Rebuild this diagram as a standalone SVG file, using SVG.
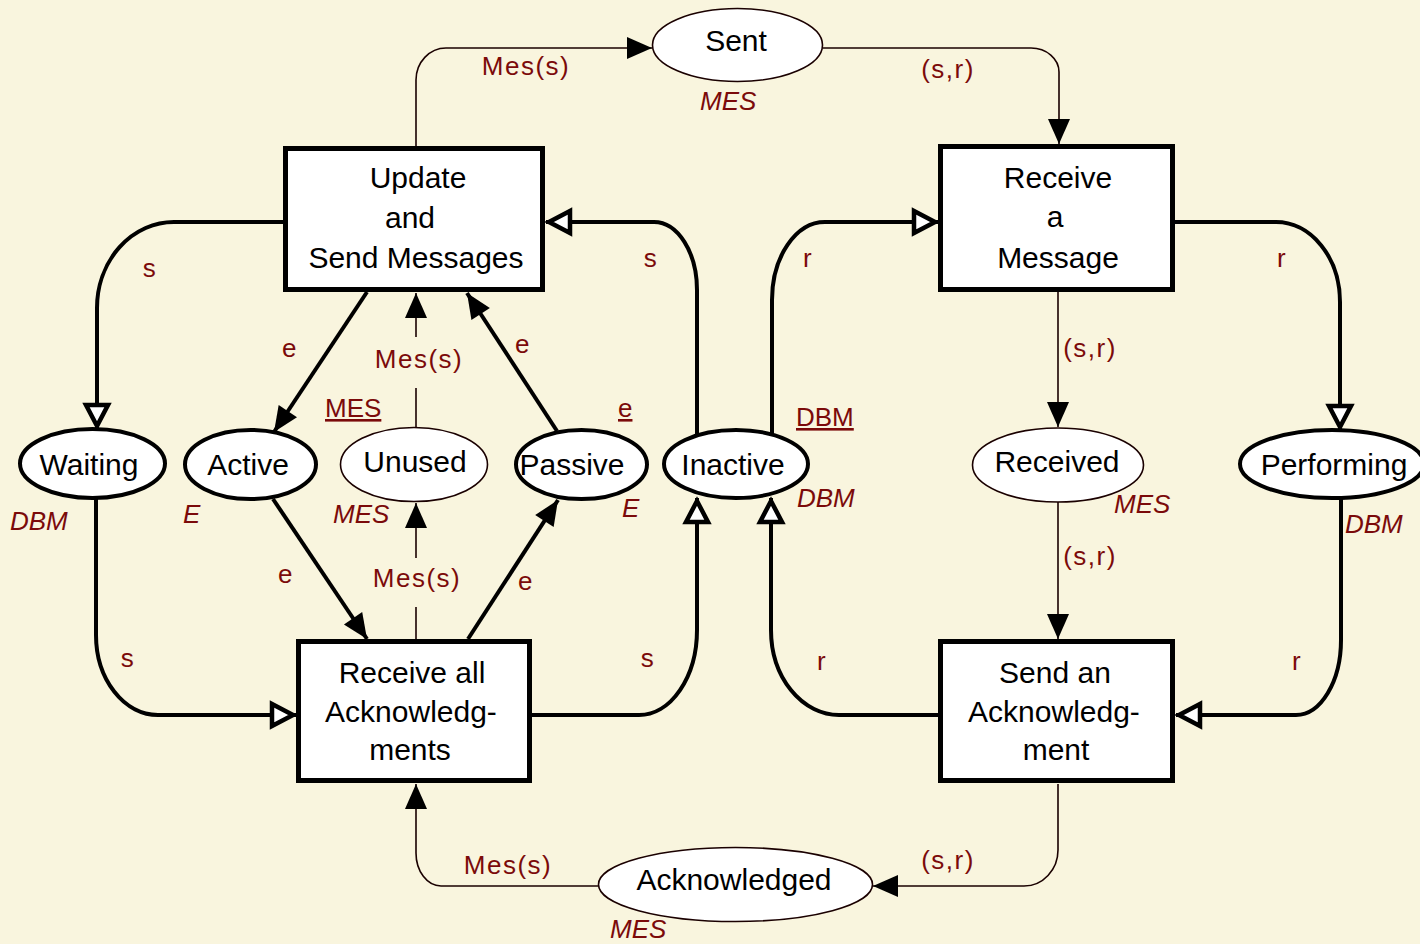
<svg xmlns="http://www.w3.org/2000/svg" width="1420" height="944" viewBox="0 0 1420 944">
<defs>
<style>
.bg{fill:#F9F5DE}
.tr{fill:#fff;stroke:#000;stroke-width:5}
.pk{fill:#fff;stroke:#000;stroke-width:4}
.pn{fill:#fff;stroke:#1a0000;stroke-width:1.6}
.nt{font-family:"Liberation Sans",Arial,sans-serif;font-size:30px;fill:#000;text-anchor:middle}
.al{font-family:"Liberation Sans",Arial,sans-serif;font-size:26px;fill:#7b0a0a;text-anchor:middle;letter-spacing:1.5px}
.cs{font-family:"Liberation Sans",Arial,sans-serif;font-size:26px;font-style:italic;fill:#7b0a0a;text-anchor:start}
.im{font-family:"Liberation Sans",Arial,sans-serif;font-size:26px;fill:#7b0a0a;text-anchor:start;text-decoration:underline}
.thin{fill:none;stroke:#1a0000;stroke-width:1.6}
.thick{fill:none;stroke:#000;stroke-width:4}
.fa{marker-end:url(#filled)}
.ha{marker-end:url(#hollow)}
</style>
<marker id="filled" markerUnits="userSpaceOnUse" viewBox="-30 -15 34 30" refX="0" refY="0" markerWidth="34" markerHeight="30" orient="auto" overflow="visible">
<path d="M0,0 L-25,-11 L-25,11 Z" fill="#000"/>
</marker>
<marker id="hollow" markerUnits="userSpaceOnUse" viewBox="-34 -18 38 36" refX="0" refY="0" markerWidth="38" markerHeight="36" orient="auto" overflow="visible">
<path d="M-3,0 L-24,-11 L-24,11 Z" fill="#fff" stroke="#000" stroke-width="4.5"/>
</marker>
</defs>
<rect class="bg" x="0" y="0" width="1420" height="944"/>

<g id="connectors">
<path id="a-update-sent" class="thin fa" d="M416,146 V80 A30,32 0 0 1 446,48 H652"/>
<path id="a-sent-receive" class="thin fa" d="M823,48 H1031 A28,24 0 0 1 1059,72 V144"/>
<path id="a-update-waiting" class="thick ha" d="M284,222 H174 A77,86 0 0 0 97,308 V429"/>
<path id="a-inactive-update" class="thick ha" d="M697,434 V290 A43,68 0 0 0 654,222 H546"/>
<path id="a-inactive-receive" class="thick ha" d="M772,434 V300 A53,78 0 0 1 825,222 H938"/>
<path id="a-receive-performing" class="thick ha" d="M1174,222 H1276 A64,80 0 0 1 1340,302 V430"/>
<path id="a-receive-received" class="thin fa" d="M1058,291 V427"/>
<path id="a-received-send" class="thin fa" d="M1058,502 V639"/>
<path id="a-performing-send" class="thick ha" d="M1341,498 V640 A45,75 0 0 1 1296,715 H1176"/>
<path id="a-send-inactive" class="thick ha" d="M939,715 H839 A68,85 0 0 1 771,630 V498"/>
<path id="a-recall-inactive" class="thick ha" d="M531,715 H639 A58,85 0 0 0 697,630 V498"/>
<path id="a-waiting-recall" class="thick ha" d="M96,499 V635 A62,80 0 0 0 158,715 H296"/>
<path id="a-update-active" class="thick fa" d="M367,292 L274,432"/>
<path id="a-passive-update" class="thick fa" d="M557,431 L467,293"/>
<path id="a-unused-update-1" class="thin" d="M416,428 V388"/>
<path id="a-unused-update-2" class="thin fa" d="M416,337 V293"/>
<path id="a-active-recall" class="thick fa" d="M273,499 L367,639"/>
<path id="a-recall-passive" class="thick fa" d="M468,639 L558,500"/>
<path id="a-recall-unused-1" class="thin" d="M416,639 V607"/>
<path id="a-recall-unused-2" class="thin fa" d="M416,558 V503"/>
<path id="a-ack-recall" class="thin fa" d="M598,886 H441 A25,33 0 0 1 416,853 V784"/>
<path id="a-send-ack" class="thin fa" d="M1058,784 V850 A34,36 0 0 1 1024,886 H873"/>

<text class="al" x="526" y="75">Mes(s)</text>
<text class="al" x="948" y="78">(s,r)</text>
<text class="al" x="150" y="277">s</text>
<text class="al" x="651" y="267">s</text>
<text class="al" x="808" y="267">r</text>
<text class="al" x="1282" y="267">r</text>
<text class="al" x="290" y="357">e</text>
<text class="al" x="419" y="368">Mes(s)</text>
<text class="al" x="523" y="353">e</text>
<text class="al" x="1090" y="357">(s,r)</text>
<text class="al" x="286" y="583">e</text>
<text class="al" x="417" y="587">Mes(s)</text>
<text class="al" x="526" y="590">e</text>
<text class="al" x="1090" y="565">(s,r)</text>
<text class="al" x="128" y="667">s</text>
<text class="al" x="648" y="667">s</text>
<text class="al" x="822" y="670">r</text>
<text class="al" x="1297" y="670">r</text>
<text class="al" x="508" y="874">Mes(s)</text>
<text class="al" x="948" y="869">(s,r)</text>
</g>

<g id="t-update">
<rect class="tr" x="285.5" y="148.5" width="257" height="141"/>
<text class="nt" x="418" y="188">Update</text>
<text class="nt" x="410" y="228">and</text>
<text class="nt" x="416" y="268">Send Messages</text>
</g>
<g id="t-receive">
<rect class="tr" x="940.5" y="146.5" width="232" height="143"/>
<text class="nt" x="1058" y="188">Receive</text>
<text class="nt" x="1055" y="227">a</text>
<text class="nt" x="1058" y="268">Message</text>
</g>
<g id="t-receive-all">
<rect class="tr" x="298.5" y="641.5" width="231" height="139"/>
<text class="nt" x="412" y="683">Receive all</text>
<text class="nt" x="411" y="722">Acknowledg-</text>
<text class="nt" x="410" y="760">ments</text>
</g>
<g id="t-send-ack">
<rect class="tr" x="940.5" y="641.5" width="232" height="139"/>
<text class="nt" x="1055" y="683">Send an</text>
<text class="nt" x="1054" y="722">Acknowledg-</text>
<text class="nt" x="1056" y="760">ment</text>
</g>

<g id="p-sent">
<ellipse class="pn" cx="737.5" cy="45" rx="85" ry="36.5"/>
<text class="nt" x="736" y="51">Sent</text>
<text class="cs" x="700" y="110">MES</text>
</g>
<g id="p-waiting">
<ellipse class="pk" cx="92.5" cy="463.5" rx="72.5" ry="34.5"/>
<text class="nt" x="89" y="475">Waiting</text>
<text class="cs" x="10" y="530">DBM</text>
</g>
<g id="p-active">
<ellipse class="pk" cx="250.5" cy="464.5" rx="65.5" ry="34.5"/>
<text class="nt" x="248" y="475">Active</text>
<text class="cs" x="183" y="523">E</text>
</g>
<g id="p-unused">
<ellipse class="pn" cx="414" cy="464.5" rx="73.5" ry="37"/>
<text class="nt" x="415" y="472">Unused</text>
<text class="im" x="325" y="417">MES</text>
<text class="cs" x="333" y="523">MES</text>
</g>
<g id="p-passive">
<ellipse class="pk" cx="581.5" cy="464.5" rx="65.5" ry="34.5"/>
<text class="nt" x="572" y="475">Passive</text>
<text class="im" x="618" y="417">e</text>
<text class="cs" x="622" y="517">E</text>
</g>
<g id="p-inactive">
<ellipse class="pk" cx="736" cy="464" rx="72" ry="34"/>
<text class="nt" x="733" y="475">Inactive</text>
<text class="im" x="796" y="426">DBM</text>
<text class="cs" x="797" y="507">DBM</text>
</g>
<g id="p-received">
<ellipse class="pn" cx="1058" cy="465" rx="85.5" ry="37"/>
<text class="nt" x="1057" y="472">Received</text>
<text class="cs" x="1114" y="513">MES</text>
</g>
<g id="p-performing">
<ellipse class="pk" cx="1332" cy="464" rx="92" ry="34"/>
<text class="nt" x="1334" y="475">Performing</text>
<text class="cs" x="1345" y="533">DBM</text>
</g>
<g id="p-acknowledged">
<ellipse class="pn" cx="735.5" cy="884.5" rx="137" ry="37"/>
<text class="nt" x="734" y="890">Acknowledged</text>
<text class="cs" x="610" y="938">MES</text>
</g>
</svg>
